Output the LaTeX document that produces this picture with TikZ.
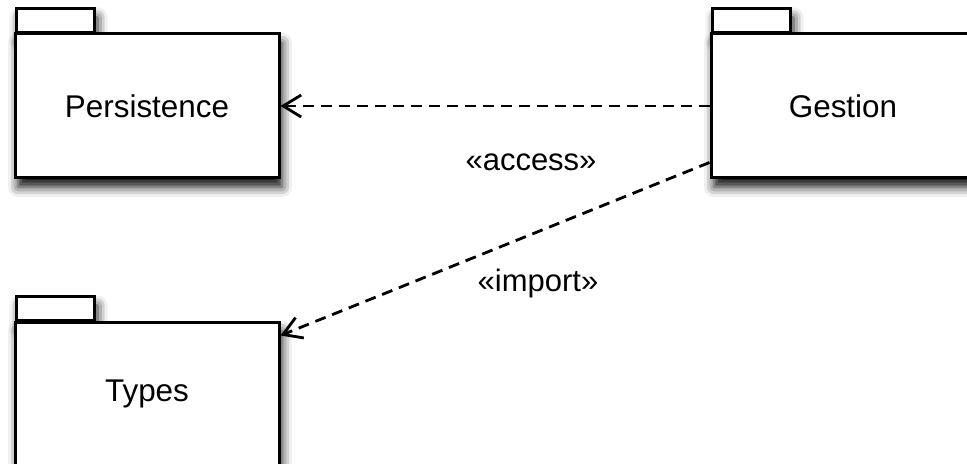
\documentclass[tikz,border=0pt]{standalone}
\usepackage{fontspec}
\setmainfont{Liberation Sans}
\usepackage{tikz}
\usetikzlibrary{arrows.meta,positioning,calc,shadows.blur}

\begin{document}
\begin{tikzpicture}[x=0.5pt, y=-0.5pt,
    pkgbody/.style={draw, line width=1.5pt, fill=white, minimum width=132pt, minimum height=72pt,
        inner sep=0pt, font=\fontsize{15.7}{19}\selectfont,
        blur shadow={shadow xshift=1.5pt, shadow yshift=-4.5pt, shadow blur radius=5pt, shadow opacity=95}},
    pkgtab/.style={draw, line width=1.5pt, fill=white, minimum width=39pt, minimum height=12pt,
        inner sep=0pt, anchor=south west,
        blur shadow={shadow xshift=1.5pt, shadow yshift=-4.5pt, shadow blur radius=5pt, shadow opacity=95}},
    dep/.style={line width=1.4pt, dash pattern=on 5.5pt off 3.5pt, -{Straight Barb[length=9pt,width=11pt,line width=1.4pt]}},
    stereo/.style={font=\fontsize{15.5}{19}\selectfont}]
    \useasboundingbox (0,0) rectangle (967,464);

    % Persistence package
    \node[pkgtab] (persistence-tab) at (15,34) {};
    \node[pkgbody] (persistence) at (147,106) {Persistence};

    % Gestion package
    \node[pkgtab] (gestion-tab) at (711,34) {};
    \node[pkgbody] (gestion) at (843,106) {Gestion};

    % Types package
    \node[pkgtab] (types-tab) at (15,322) {};
    \node[pkgbody] (types) at (147,394) {Types};

    % Dependencies
    \coordinate (imp-from) at ([yshift=8.5pt]gestion.south west);
    \coordinate (imp-to) at ([yshift=-7.5pt]types.north east);
    \draw[dep] (gestion.west) -- (persistence.east);
    \draw[dep] (imp-from) -- (imp-to);

    \node[stereo] (access) at (531,162) {«access»};
    \node[stereo] (import) at (538,283) {«import»};
\end{tikzpicture}
\end{document}
